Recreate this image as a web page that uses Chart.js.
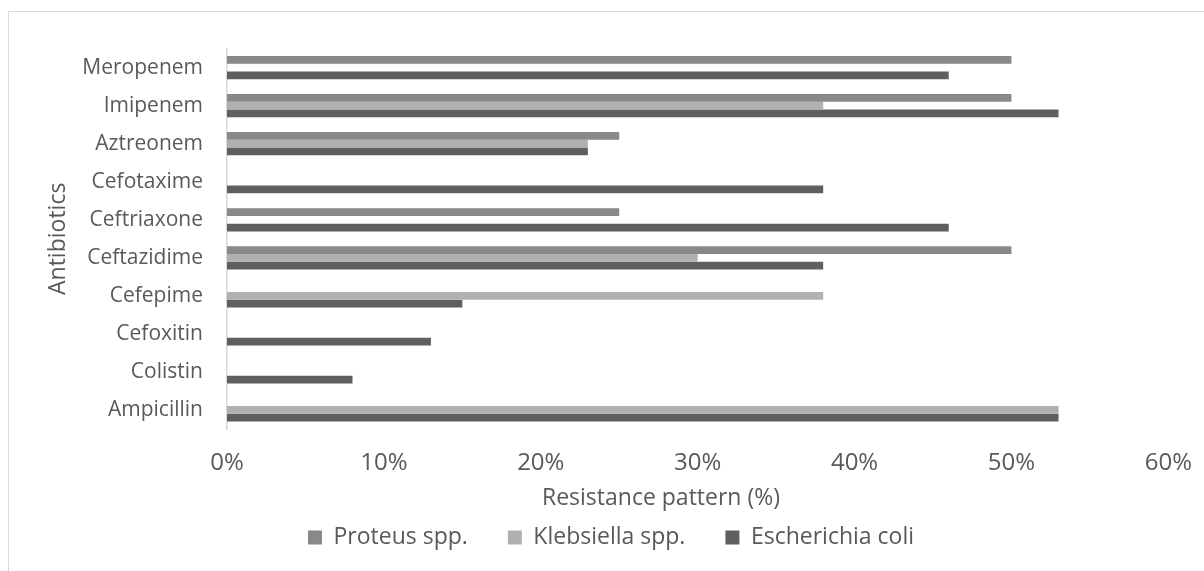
<!DOCTYPE html>
<html>
<head>
<meta charset="utf-8">
<script src="https://cdn.jsdelivr.net/npm/chart.js@4"></script>
<style>
  body { margin: 0; background: #fff; overflow: hidden; }
  #frame {
    position: absolute; left: 8px; top: 11px;
    width: 1196px; height: 560px;
    border-left: 1px solid #d9d9d9; border-top: 1px solid #d9d9d9;
  }
</style>
</head>
<body>
<div id="frame"><canvas id="chart" width="1195" height="559"></canvas></div>
<script>
  // data
  const antibiotics = ["Meropenem", "Imipenem", "Aztreonem", "Cefotaxime", "Ceftriaxone",
    "Ceftazidime", "Cefepime", "Cefoxitin", "Colistin", "Ampicillin"];
  const proteus = [50, 50, 25, 0, 25, 50, 0, 0, 0, 0];
  const klebsiella = [0, 38, 23, 0, 0, 30, 38, 0, 0, 53];
  const ecoli = [46, 53, 23, 38, 46, 38, 15, 13, 8, 53];
  const tickLabels = ["0%", "10%", "20%", "30%", "40%", "50%", "60%"];

  const textColor = "#595959";
  const fontFamily = "Open Sans";

  //x axis title is drawn by hand so it can sit left of the plot centre, like the original
  const xTitle = {
    id: "xTitle",
    afterDraw(chart) {
      const ctx = chart.ctx;
      ctx.save();
      ctx.font = "23px 'Open Sans'";
      ctx.fillStyle = textColor;
      ctx.textAlign = "center";
      ctx.textBaseline = "middle";
      ctx.fillText("Resistance pattern (%)", 652, 486);
      ctx.restore();
    }
  };

  new Chart("chart", {
    type: "bar",
    data: {
      labels: antibiotics,
      datasets: [
        { label: "Proteus spp.", data: proteus, backgroundColor: "#898989" },
        { label: "Klebsiella spp.", data: klebsiella, backgroundColor: "#b0b0b0" },
        { label: "Escherichia coli", data: ecoli, backgroundColor: "#5f5f5f" }
      ]
    },
    options: {
      indexAxis: "y",
      responsive: false,
      animation: false,
      barPercentage: 1,
      categoryPercentage: 0.61,
      layout: { padding: { top: 25, right: 32, bottom: 12, left: 41 } },
      scales: {
        x: {
          min: 0,
          max: 60,
          ticks: {
            stepSize: 10,
            padding: 12,
            color: textColor,
            font: { family: fontFamily, size: 24 },
            callback: (v, i) => tickLabels[i]
          },
          grid: { display: false },
          border: { display: false },
          afterFit: (s) => { s.height = 57; }
        },
        y: {
          ticks: { padding: 24, color: textColor, font: { family: fontFamily, size: 21 }, autoSkip: false },
          grid: { display: false, drawTicks: false },
          border: { display: true, color: "#d9d9d9", width: 1.5 },
          title: {
            display: true,
            text: "Antibiotics",
            color: textColor,
            font: { family: fontFamily, size: 23 },
            padding: { top: -5, bottom: 0 }
          },
          afterFit: (s) => { s.width = 177; }
        }
      },
      plugins: {
        legend: {
          position: "bottom",
          labels: {
            boxWidth: 14,
            boxHeight: 14,
            padding: 40,
            color: textColor,
            font: { family: fontFamily, size: 23 }
          }
        },
        tooltip: { enabled: false }
      }
    },
    plugins: [xTitle]
  });
</script>
</body>
</html>
